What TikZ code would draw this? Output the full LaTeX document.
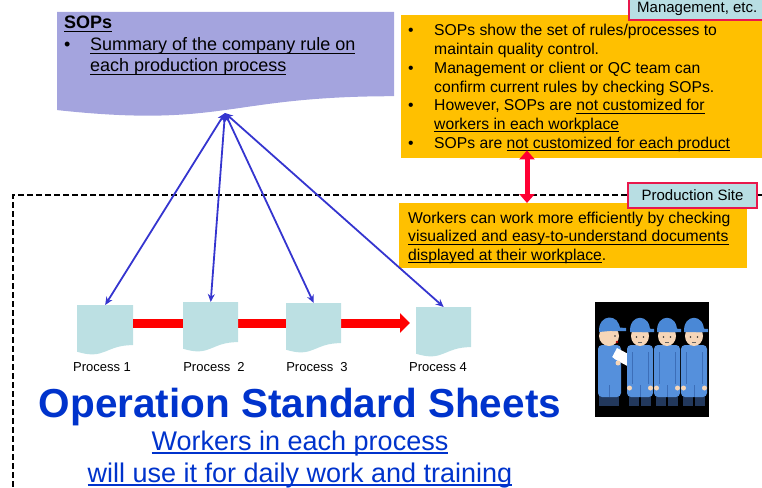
\documentclass[tikz,border=0pt]{standalone}
\usepackage{fontspec}
\setmainfont{Liberation Sans}
\usetikzlibrary{arrows.meta,calc}

\definecolor{sopfill}{HTML}{A4A4DE}
\definecolor{notefill}{HTML}{FFC000}
\definecolor{tagfill}{HTML}{B8DEE3}
\definecolor{tagline}{HTML}{E8184C}
\definecolor{sheetfill}{HTML}{BCE0E3}
\definecolor{linkblue}{HTML}{3535CF}
\definecolor{flowred}{HTML}{FF0000}
\definecolor{linkred}{HTML}{FF0033}
\definecolor{titleblue}{HTML}{0033CC}
\definecolor{crewcap}{HTML}{4A88D6}
\definecolor{crewsuit}{HTML}{5590DC}
\definecolor{crewseam}{HTML}{3C6EB8}
\definecolor{crewshoe}{HTML}{22385C}
\definecolor{crewskin}{HTML}{F6D6B8}

% simple underline: rule of thickness \ulthick placed \uldepth below the baseline
\newlength\uldepth \setlength\uldepth{2pt}
\newlength\ulthick \setlength\ulthick{1pt}
\newcommand\uln[1]{\leavevmode\begingroup\setbox0=\hbox{#1}%
  \rlap{\rule[-\dimexpr\uldepth+\ulthick\relax]{\wd0}{\ulthick}}\box0\endgroup}

\newcommand\fsop{\fontsize{18}{21.5}\selectfont\setlength\uldepth{2.2pt}}
\newcommand\fbody{\fontsize{15.7}{18.7}\selectfont\setlength\uldepth{2pt}}
\newcommand\flabel{\fontsize{15}{18}\selectfont}
\newcommand\fproc{\fontsize{13}{15.6}\selectfont}
\newcommand\ftitle{\fontsize{40.5}{48}\selectfont\bfseries}
\newcommand\fsub{\fontsize{27}{32}\selectfont\setlength\uldepth{2pt}\setlength\ulthick{2pt}}

% document sheet with a wavy lower edge: name, left, top, width, height, colour
\newcommand\docsheet[6]{%
  \fill[#6] (#2,#3) -- ({#2+#4},#3) -- ({#2+#4},{#3+0.802*#5})
    .. controls ({#2+0.5*#4},{#3+0.802*#5}) and ({#2+0.5*#4},{#3+1.1075*#5}) .. (#2,{#3+0.934*#5}) -- cycle;
  \node[anchor=north west, inner sep=0pt, minimum width=#4pt, minimum height=#5pt] (#1) at (#2,#3) {};
}

% a worker facing front, centred on x = #1
\newcommand\crewfront[1]{%
  \fill[crewshoe] (#1-11,394) rectangle (#1-1,406);
  \fill[crewshoe] (#1+1,394) rectangle (#1+11,406);
  \fill[crewsuit, rounded corners=4pt] (#1-13,345) rectangle (#1+13,397);
  \draw[crewseam, line width=0.8pt] (#1-8,352) -- (#1-8,384) (#1+8,352) -- (#1+8,384) (#1,385) -- (#1,397);
  \fill[crewskin] (#1-10.5,388) circle[radius=2.5pt] (#1+10.5,388) circle[radius=2.5pt];
  \fill[crewskin] (#1,336) ellipse[x radius=9pt, y radius=10pt];
  \fill[crewcap] (#1-10,332) .. controls (#1-11,313) and (#1+11,313) .. (#1+10,332) -- cycle;
  \fill[crewcap] (#1+2,328) -- (#1+14,329) -- (#1+14,332) -- (#1+2,332) -- cycle;
  \fill[black!80] (#1-3.5,337) circle[radius=0.9pt] (#1+3.5,337) circle[radius=0.9pt];
  \draw[black!60, line width=0.5pt] (#1-2,342) -- (#1+2,342);
}

\tikzset{
  txt/.style={inner sep=0pt, anchor=base west, text=black},
  notebox/.style={fill=notefill, inner sep=0pt, anchor=north west},
  sitetag/.style={fill=tagfill, draw=tagline, line width=2pt, inner sep=0pt},
  sitedash/.style={draw=black, line width=2pt, dash pattern=on 6pt off 3pt},
  sopslink/.style={draw=linkblue, line width=1.8pt, {Stealth[length=8pt,width=7pt]}-{Stealth[length=8pt,width=7pt]}},
  flowarrow/.style={draw=flowred, line width=9pt, -{Triangle[length=10pt,width=19pt]}},
  notelink/.style={draw=linkred, line width=5pt, {Triangle[length=9pt,width=15pt]}-{Triangle[length=9pt,width=15pt]}},
}

\begin{document}
\begin{tikzpicture}[x=1pt,y=-1pt]
\useasboundingbox (0,0) rectangle (762,487);

% boundary of the production site
\draw[sitedash] (780,195) -- (13,195) -- (13,500);

% SOPs sheet
\docsheet{sops}{57}{12}{337}{105}{sopfill}
\node[txt, font=\fsop] (sopstext) at (64,29) {\begin{tabular}[t]{@{}l@{}}
  \textbf{\uln{SOPs}}\\
  \makebox[26pt][l]{\textbullet}\uln{Summary of the company rule on}\\
  \hspace*{26pt}\uln{each production process}
\end{tabular}};

% note on SOPs
\node[notebox, minimum width=370pt, minimum height=143pt] (rules) at (401,15) {};
\node[txt, font=\fbody] (rulestext) at (408,36) {\begin{tabular}[t]{@{}l@{}}
  \makebox[26pt][l]{\textbullet}SOPs show the set of rules/processes to\\
  \hspace*{26pt}maintain quality control.\\
  \makebox[26pt][l]{\textbullet}Management or client or QC team can\\
  \hspace*{26pt}confirm current rules by checking SOPs.\\
  \makebox[26pt][l]{\textbullet}However, SOPs are \uln{not customized for}\\
  \hspace*{26pt}\uln{workers in each workplace}\\
  \makebox[26pt][l]{\textbullet}SOPs are \uln{not customized for each product}
\end{tabular}};

\node[sitetag, anchor=north west, minimum width=150pt, minimum height=29pt] (mgmt) at (628,-10) {};
\node[txt, font=\flabel] (mgmttext) at (637,13) {Management, etc.};

% note on the workplace documents
\node[notebox, minimum width=348pt, minimum height=65pt] (workplace) at (399,203) {};
\node[txt, font=\fbody] (workplacetext) at (408,223) {\begin{tabular}[t]{@{}l@{}}
  Workers can work more efficiently by checking\\
  \uln{visualized and easy-to-understand documents}\\
  \uln{displayed at their workplace}.
\end{tabular}};

\node[sitetag, minimum width=129pt, minimum height=25pt, font=\flabel] (site) at (692.5,195.5) {Production Site};

\coordinate (linkx) at (527,0);
\draw[notelink] ([yshift=8pt]rules.south -| linkx) -- (workplace.north -| linkx);

% process sheets and the flow between them
\docsheet{p1}{77}{305}{56}{50}{sheetfill}
\coordinate (flowend) at (410,323);
\draw[flowarrow] (p1.east |- flowend) -- (flowend);
\docsheet{p2}{183}{302}{55}{50}{sheetfill}
\docsheet{p3}{286}{303}{55}{50}{sheetfill}
\docsheet{p4}{416}{307}{55}{50}{sheetfill}

\coordinate (sopsfoot) at (225,113);
\foreach \p in {p1,p2,p3,p4} \draw[sopslink] (sopsfoot) -- (\p.north);

\node[txt, anchor=base, font=\fproc] (l1) at (102,371) {Process 1};
\node[txt, anchor=base, font=\fproc] (l2) at (214,371) {Process\ \ 2};
\node[txt, anchor=base, font=\fproc] (l3) at (317,371) {Process\ \ 3};
\node[txt, anchor=base, font=\fproc] (l4) at (438,371) {Process 4};

% titles
\node[txt, anchor=base, font=\ftitle, text=titleblue] (title) at (300,417) {Operation Standard Sheets};
\node[txt, anchor=base, font=\fsub, text=titleblue] (sub1) at (300,450) {\uln{Workers in each process}};
\node[txt, anchor=base, font=\fsub, text=titleblue] (sub2) at (300,482) {\uln{will use it for daily work and training}};

% workers at the site
\node[fill=black, inner sep=0pt, anchor=north west, minimum width=114pt, minimum height=115pt] (crew) at (595,302) {};
% leader with a clipboard
\fill[crewshoe] (599,394) rectangle (619,406);
\fill[crewsuit, rounded corners=4pt] (598,345) rectangle (621,397);
\draw[crewseam, line width=0.8pt] (609,385) -- (609,397);
\fill[crewskin] (609,336) ellipse[x radius=10pt, y radius=10pt];
\fill[crewcap] (599,332) .. controls (598,313) and (620,313) .. (620,330) -- cycle;
\fill[crewcap] (612,327) -- (626,328) -- (626,331) -- (612,331) -- cycle;
\fill[black!80] (615,336) circle[radius=0.9pt];
\fill[red!70!black] (617,342) circle[radius=1.3pt];
\fill[white, rotate around={-28:(623,358)}] (613,352) rectangle (634,363);
\fill[crewsuit] (606,352) -- (618,362) -- (616,366) -- (603,358) -- cycle;
\fill[crewskin] (618,363) circle[radius=2.5pt];
\crewfront{640}
\crewfront{667}
\crewfront{694}
\end{tikzpicture}
\end{document}
